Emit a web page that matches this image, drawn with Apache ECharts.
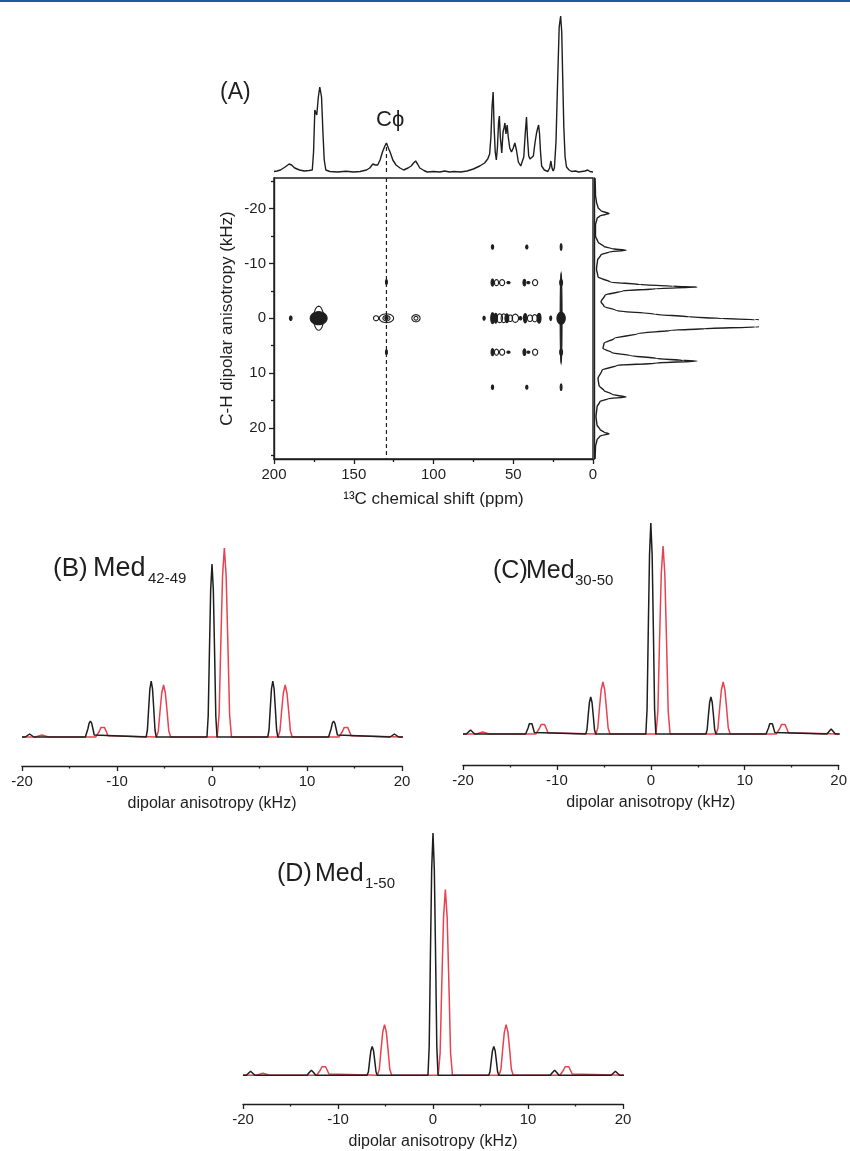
<!DOCTYPE html>
<html>
<head>
<meta charset="utf-8">
<script src="https://cdn.jsdelivr.net/npm/echarts@6/dist/echarts.min.js"></script>
<style>
  html, body { margin: 0; padding: 0; background: #fff; }
  #c { width: 850px; height: 1151px; }
</style>
</head>
<body>
<div id="c"></div>
<script>
// 1D 13C CP-MAS spectrum: [ppm, intensity]
const spectrum13C = [
  [200,0.5],[198,1],[196,2],[193,5],[190.5,8],[189,7],[187,4],[184,2],[181,1],[178,1.5],[176,2],
  [175.2,20],[174.4,62],[173.2,57],[172.2,75],[171.3,85],[170.2,75],[169.2,35],[168.5,12],[167.5,2],
  [165,0.5],[160,0],[155,0.8],[150,0],[146,0.5],[142,2],[140,4],[138,8],[136.5,7],[135,7],[133.5,12],
  [132,20],[130.5,26],[129.5,29],[128.3,24],[127,19],[125.5,12],[123.5,7],[121,4],[118.7,2],[116,4],
  [114,6],[112.5,9],[111.2,11],[110,8],[108.6,4],[106,1.5],[104,0],[100,0.5],[96,0],[93,1],[90,0],
  [87,0.5],[83,0],[79,1],[75,3],[71,6],[68,9],[66,13],[64.8,18],[64,35],[63.3,65],[62.6,80],[62,45],
  [61.3,20],[60.6,12],[59.9,25],[59.2,50],[58.7,56],[58.1,35],[57.2,19],[56.4,40],[55.8,44],[55.2,49],
  [54.6,38],[53.8,47],[53.2,36],[52.2,24],[51.1,20],[50,24],[49,29],[48,22],[46.8,10],[45.3,6],[44.4,5],
  [43.4,15],[42.5,38],[41.7,55],[41.1,35],[40.3,16],[39.5,13],[38.4,15],[37.4,16],[36.3,30],[35.4,39],
  [34.8,43],[34.1,47],[33.5,38],[32.9,20],[32.2,6],[30.5,2],[28.3,0.5],[27.2,4],[26.4,11],[25.7,4],
  [25,1],[24.2,4],[23.2,30],[22.2,90],[21.2,145],[20.3,156],[19.6,140],[19,95],[18.3,45],[17.5,15],
  [16.6,5],[15,2],[13.4,0.5],[11,1],[9,0],[7,0.5],[5,1],[3.3,2],[2,0.5],[0,0]
];

// Cphi position (ppm) and its peak height in the 1D trace
const cPhiPpm = 129.5;
const cPhiHeight = 29;

// 2D DIPSHIFT contours: [ppm, kHz, half-width (ppm), half-height (kHz), filled]
const contourSpots = [
  [189.5,0,0.8,0.4,1],
  [172,0,3.1,2.2,0],[172,0,5.3,1.2,1],
  [136,0,1.6,0.45,0],[129.5,0,4.5,0.8,0],[129.5,0,2.2,0.5,0],[129.5,0,1.0,0.35,1],
  [129.5,-6.6,0.6,0.45,1],[129.5,6.2,0.6,0.45,1],
  [111,0,2.6,0.65,0],[111,0,1.2,0.35,0],
  [68.3,0,0.7,0.35,1],[63,0,1.1,1.0,1],[61,0,1.1,0.9,1],[58.5,0,1.8,0.8,0],[56,0,1.6,0.8,0],
  [54,0,1.2,0.8,1],[51.8,0,1.4,0.6,0],[48.7,0,2.0,0.75,0],[45.5,0,0.9,0.3,1],[42.5,0,1.1,0.85,1],
  [39.5,0,1.6,0.6,0],[36.5,0,1.6,0.65,0],[33.8,0,1.2,0.9,1],[26.5,0,0.6,0.4,1],
  [20,0,2.6,1.1,1],[20,0,0.6,8.2,1],[20,-6.5,0.9,0.6,0],[20,6.2,0.9,0.6,0],
  [63,-6.5,0.9,0.65,1],[60.5,-6.5,1.3,0.55,0],[57,-6.5,1.6,0.55,0],[53,-6.5,1.0,0.2,1],
  [43,-6.5,0.9,0.6,1],[40.5,-6.5,0.9,0.2,1],[36.3,-6.5,1.6,0.55,0],
  [63,6.2,0.9,0.65,1],[60.5,6.2,1.3,0.55,0],[57,6.2,1.6,0.55,0],[53,6.2,1.0,0.2,1],
  [43,6.2,0.9,0.6,1],[40.5,6.2,0.9,0.2,1],[36.3,6.2,1.6,0.55,0],
  [63,-13,0.7,0.4,1],[41.5,-13,0.7,0.35,1],[20,-13,0.5,0.6,1],
  [63,12.6,0.7,0.4,1],[41.5,12.6,0.7,0.35,1],[20,12.6,0.5,0.6,1]
];

// Dipolar projection along F1: [kHz, intensity]
const projection = [
  [-25.6,1],[-22.5,1.5],[-21.2,2.5],[-20.2,4],[-19.6,7],[-19.1,15],[-18.7,6],[-18.2,3],[-17,1.5],
  [-15,1.5],[-13.9,4],[-13.1,10],[-12.7,18],[-12.4,32],[-12.1,15],[-11.6,7],[-10.6,3.5],[-9,2.5],
  [-7.55,4],[-6.6,16],[-6.15,46],[-5.85,79],[-5.7,103],[-5.4,62],[-5.0,29],[-4.2,11],[-3.0,7],
  [-2.2,10],[-1.4,22],[-0.73,61],[-0.25,95],[0.06,128],[0.25,161],[0.9,300],[1.6,161],[1.9,111],
  [2.2,78],[2.8,44],[3.7,20],[4.6,10],[5.5,9],[6.3,18],[6.8,36],[7.35,63],[7.7,89],[7.8,103],
  [8.2,62],[8.6,23],[9.5,8],[11,4],[12.3,5],[13.2,10],[13.9,18],[14.4,32],[14.7,14],[15.2,6],
  [16.2,3],[18,2],[19.5,3],[20.3,6],[20.8,10],[21.1,15],[21.5,6],[22.2,3],[23.5,1.5],[25.7,1]
];

// Dipolar slices (experimental black, simulated red): [kHz, intensity]
const med4249Black = [
  [-20,0],[-19.65,0],[-19.2,3],[-18.75,0],
  [-13.33,0],[-13.2,2],[-13.07,8],[-12.94,13.6],[-12.8,16],[-12.66,13.6],[-12.53,8],[-12.4,2],[-12.27,0],
  [-6.93,0],[-6.8,7],[-6.67,28],[-6.54,48],[-6.4,56],[-6.26,48],[-6.13,28],[-6.0,7],[-5.87,0],
  [-0.53,0],[-0.4,21],[-0.27,86],[-0.14,147],[0,173],[0.14,147],[0.27,86],[0.4,21],[0.53,0],
  [5.87,0],[6.0,7],[6.13,28],[6.26,48],[6.4,56],[6.54,48],[6.67,28],[6.8,7],[6.93,0],
  [12.27,0],[12.4,2],[12.53,8],[12.66,13.6],[12.8,16],[12.94,13.6],[13.07,8],[13.2,2],[13.33,0],
  [18.75,0],[19.2,3],[19.65,0],[20.1,0]
];
const med4249Red = [
  [-20,0],[-18.6,0],[-17.9,2],[-17.2,0],
  [-12.25,0],[-12.05,1.3],[-11.87,5.5],[-11.69,9.4],[-11.5,11],[-11.31,9.4],[-11.13,5.5],[-10.95,1.3],[-10.75,0],
  [-5.85,0],[-5.65,6],[-5.47,26],[-5.29,44],[-5.1,52],[-4.91,44],[-4.73,26],[-4.55,6],[-4.35,0],
  [0.55,0],[0.75,23],[0.93,94],[1.11,161],[1.3,189],[1.49,161],[1.67,94],[1.85,23],[2.05,0],
  [6.95,0],[7.15,6],[7.33,26],[7.51,44],[7.7,52],[7.89,44],[8.07,26],[8.25,6],[8.45,0],
  [13.35,0],[13.55,1.3],[13.73,5.5],[13.91,9.4],[14.1,11],[14.29,9.4],[14.47,5.5],[14.65,1.3],[14.85,0],
  [20.1,0]
];
const med3050Black = [
  [-20,0],[-19.65,0],[-19.2,4],[-18.75,0],
  [-13.33,0],[-13.2,1.4],[-13.07,6],[-12.94,10.2],[-12.8,12],[-12.66,10.2],[-12.53,6],[-12.4,1.4],[-12.27,0],
  [-6.93,0],[-6.8,4.4],[-6.67,18.5],[-6.54,31.5],[-6.4,37],[-6.26,31.5],[-6.13,18.5],[-6.0,4.4],[-5.87,0],
  [-0.53,0],[-0.4,25],[-0.27,105],[-0.14,179],[0,211],[0.14,179],[0.27,105],[0.4,25],[0.53,0],
  [5.87,0],[6.0,4.4],[6.13,18.5],[6.26,31.5],[6.4,37],[6.54,31.5],[6.67,18.5],[6.8,4.4],[6.93,0],
  [12.27,0],[12.4,1.4],[12.53,6],[12.66,10.2],[12.8,12],[12.94,10.2],[13.07,6],[13.2,1.4],[13.33,0],
  [18.75,0],[19.2,5],[19.65,0],[20.1,0]
];
const med3050Red = [
  [-20,0],[-18.6,0],[-17.9,2],[-17.2,0],
  [-12.25,0],[-12.05,1.3],[-11.87,5.5],[-11.69,9.4],[-11.5,11],[-11.31,9.4],[-11.13,5.5],[-10.95,1.3],[-10.75,0],
  [-5.85,0],[-5.65,6],[-5.47,26],[-5.29,44],[-5.1,52],[-4.91,44],[-4.73,26],[-4.55,6],[-4.35,0],
  [0.55,0],[0.75,22.6],[0.93,94],[1.11,160],[1.3,188],[1.49,160],[1.67,94],[1.85,22.6],[2.05,0],
  [6.95,0],[7.15,6],[7.33,26],[7.51,44],[7.7,52],[7.89,44],[8.07,26],[8.25,6],[8.45,0],
  [13.35,0],[13.55,1.3],[13.73,5.5],[13.91,9.4],[14.1,11],[14.29,9.4],[14.47,5.5],[14.65,1.3],[14.85,0],
  [20.1,0]
];
const med150Black = [
  [-20,0],[-19.65,0],[-19.2,4],[-18.75,0],
  [-13.25,0],[-13.05,2.5],[-12.8,5],[-12.55,2.5],[-12.35,0],
  [-6.93,0],[-6.8,3.5],[-6.67,14.5],[-6.54,24.7],[-6.4,29],[-6.26,24.7],[-6.13,14.5],[-6.0,3.5],[-5.87,0],
  [-0.53,0],[-0.4,29],[-0.27,122],[-0.14,207],[0,244],[0.14,207],[0.27,122],[0.4,29],[0.53,0],
  [5.87,0],[6.0,3.5],[6.13,14.5],[6.26,24.7],[6.4,29],[6.54,24.7],[6.67,14.5],[6.8,3.5],[6.93,0],
  [12.35,0],[12.55,2.5],[12.8,5],[13.05,2.5],[13.25,0],
  [18.75,0],[19.2,4],[19.65,0],[20.1,0]
];
const med150Red = [
  [-20,0],[-18.6,0],[-17.9,2],[-17.2,0],
  [-12.25,0],[-12.05,1.2],[-11.87,5],[-11.69,8.5],[-11.5,10],[-11.31,8.5],[-11.13,5],[-10.95,1.2],[-10.75,0],
  [-5.85,0],[-5.65,6],[-5.47,25.5],[-5.29,43.4],[-5.1,51],[-4.91,43.4],[-4.73,25.5],[-4.55,6],[-4.35,0],
  [0.55,0],[0.75,22.4],[0.93,93.5],[1.11,159],[1.3,187],[1.49,159],[1.67,93.5],[1.85,22.4],[2.05,0],
  [6.95,0],[7.15,6],[7.33,25.5],[7.51,43.4],[7.7,51],[7.89,43.4],[8.07,25.5],[8.25,6],[8.45,0],
  [13.35,0],[13.55,1.2],[13.73,5],[13.91,8.5],[14.1,10],[14.29,8.5],[14.47,5],[14.65,1.2],[14.85,0],
  [20.1,0]
];

// Axis tick values for the 2D map
const ppmTicks = [0, 50, 100, 150, 200];
const khzMajor = [-20, -10, 0, 10, 20];
const khzMinor = [-25, -15, -5, 5, 15, 25];

const FONT = '"Liberation Sans", Arial, Helvetica, sans-serif';
const INK = '#1e1e1e';
const RED = '#e8414f';

const chart = echarts.init(document.getElementById('c'), null, { renderer: 'canvas', width: 850, height: 1151 });

function sliceXAxis(gridIndex) {
  return {
    gridIndex, type: 'value', min: -20, max: 20, interval: 10,
    axisLine: { show: true, onZero: false, lineStyle: { color: INK, width: 1.4 } },
    axisTick: { show: true, length: 5, lineStyle: { color: INK, width: 1.3 } },
    minorTick: { show: true, splitNumber: 2, length: 2.5, lineStyle: { color: INK, width: 1.3 } },
    splitLine: { show: false },
    axisLabel: { fontSize: 15, color: INK, fontFamily: FONT, margin: 8 },
    name: 'dipolar anisotropy (kHz)', nameLocation: 'middle', nameGap: 30,
    nameTextStyle: { fontSize: 16, color: INK, fontFamily: FONT }
  };
}
function hiddenY(gridIndex, min, max) {
  return { gridIndex, type: 'value', min, max, show: false, splitLine: { show: false } };
}
function sliceSeries(data, xi, color, z) {
  return {
    type: 'line', xAxisIndex: xi, yAxisIndex: xi + 1, data, symbol: 'none', z,
    lineStyle: { color, width: 1.5 }
  };
}

const option = {
  animation: false,
  backgroundColor: '#ffffff',
  grid: [
    { left: 274, top: 14, width: 319, height: 160 },                  // 1D spectrum
    { left: 274, top: 178, width: 319, height: 281, show: true,
      borderColor: INK, borderWidth: 1.4, backgroundColor: 'transparent' }, // 2D map
    { left: 594, top: 178, width: 163, height: 281 },                 // F1 projection
    { left: 22, top: 540, width: 380, height: 226 },                  // (B)
    { left: 463, top: 520, width: 379, height: 245 },                 // (C)
    { left: 243, top: 830, width: 380, height: 276 }                  // (D)
  ],
  xAxis: [
    { gridIndex: 0, type: 'value', min: 0, max: 200, inverse: true, show: false },
    {
      gridIndex: 1, type: 'value', min: 0, max: 200, inverse: true, interval: 50,
      axisLine: { show: true, onZero: false, lineStyle: { color: INK, width: 1.4 } },
      axisTick: { show: true, length: 5, lineStyle: { color: INK, width: 1.3 } },
      minorTick: { show: true, splitNumber: 2, length: 3, lineStyle: { color: INK, width: 1.3 } },
      splitLine: { show: false },
      axisLabel: { fontSize: 15, color: INK, fontFamily: FONT, margin: 8, customValues: ppmTicks },
      name: '¹³C chemical shift (ppm)', nameLocation: 'middle', nameGap: 32,
      nameTextStyle: { fontSize: 17, color: INK, fontFamily: FONT }
    },
    { gridIndex: 2, type: 'value', min: 0, max: 163, show: false },
    sliceXAxis(3), sliceXAxis(4), sliceXAxis(5)
  ],
  yAxis: [
    { gridIndex: 0, type: 'value', min: -2, max: 158, show: false },
    {
      gridIndex: 1, type: 'value', min: -25.6, max: 25.7, inverse: true, position: 'left',
      axisLine: { show: true, onZero: false, lineStyle: { color: INK, width: 1.4 } },
      axisTick: { show: true, length: 5, customValues: khzMajor, lineStyle: { color: INK, width: 1.3 } },
      splitLine: { show: false },
      axisLabel: { fontSize: 15, color: INK, fontFamily: FONT, margin: 8, customValues: khzMajor },
      name: 'C-H dipolar anisotropy (kHz)', nameLocation: 'middle', nameGap: 38,
      nameTextStyle: { fontSize: 17, color: INK, fontFamily: FONT }
    },
    {
      gridIndex: 1, type: 'value', min: -25.6, max: 25.7, inverse: true, position: 'left',
      axisLine: { show: false, onZero: false },
      axisTick: { show: true, length: 3, customValues: khzMinor, lineStyle: { color: INK, width: 1.3 } },
      axisLabel: { show: false }, splitLine: { show: false }
    },
    {
      gridIndex: 2, type: 'value', min: -25.6, max: 25.7, inverse: true, position: 'left',
      axisLine: { show: true, onZero: false, lineStyle: { color: INK, width: 1.4 } },
      axisTick: { show: false }, axisLabel: { show: false }, splitLine: { show: false }
    },
    hiddenY(3, -29, 197), hiddenY(4, -31, 214), hiddenY(5, -29, 247)
  ],
  series: [
    {
      type: 'line', xAxisIndex: 0, yAxisIndex: 0, data: spectrum13C, symbol: 'none',
      lineStyle: { color: INK, width: 1.4 }, clip: false
    },
    {
      type: 'line', xAxisIndex: 0, yAxisIndex: 0, data: [[cPhiPpm, 0], [cPhiPpm, cPhiHeight]], symbol: 'none',
      lineStyle: { color: INK, width: 1.2, type: [4, 3] }
    },
    {
      type: 'custom', xAxisIndex: 1, yAxisIndex: 1, data: contourSpots,
      renderItem(params, api) {
        const x = api.value(0), y = api.value(1);
        const c = api.coord([x, y]);
        const s = api.size([api.value(2), api.value(3)], [x, y]);
        const rx = Math.max(Math.abs(s[0]), 0.9), ry = Math.max(Math.abs(s[1]), 0.9);
        const pts = [];
        for (let i = 0; i < 32; i++) {
          const t = i / 32 * Math.PI * 2;
          pts.push([c[0] + rx * Math.cos(t), c[1] + ry * Math.sin(t)]);
        }
        const filled = api.value(4) === 1;
        return {
          type: 'polygon', shape: { points: pts },
          style: { fill: filled ? INK : 'none', stroke: INK, lineWidth: 1.1 }
        };
      }
    },
    {
      type: 'line', xAxisIndex: 1, yAxisIndex: 1, data: [[cPhiPpm, -25.6], [cPhiPpm, 25.7]], symbol: 'none',
      lineStyle: { color: INK, width: 1.2, type: [4, 3] }, z: 3
    },
    {
      type: 'line', xAxisIndex: 2, yAxisIndex: 3, data: projection, encode: { x: 1, y: 0 },
      symbol: 'none', smooth: 0.3, smoothMonotone: 'y',
      lineStyle: { color: INK, width: 1.4 }, clip: true
    },
    sliceSeries(med4249Red, 3, RED, 2), sliceSeries(med4249Black, 3, INK, 3),
    sliceSeries(med3050Red, 4, RED, 2), sliceSeries(med3050Black, 4, INK, 3),
    sliceSeries(med150Red, 5, RED, 2), sliceSeries(med150Black, 5, INK, 3)
  ],
  graphic: [
    { type: 'rect', shape: { x: 0, y: 0, width: 850, height: 2 }, style: { fill: '#1b5ca6' } },
    { type: 'text', x: 220, y: 93, style: { text: '(A)', fontSize: 23, fontFamily: FONT, fill: INK, verticalAlign: 'middle' } },
    { type: 'text', x: 376, y: 120, style: { text: 'Cϕ', fontSize: 22, fontFamily: FONT, fill: INK, verticalAlign: 'middle' } },
    { type: 'text', x: 53, y: 569, style: { text: '(B)', fontSize: 26, fontFamily: FONT, fill: INK, verticalAlign: 'middle' } },
    { type: 'text', x: 93, y: 569, style: { text: 'Med', fontSize: 27, fontFamily: FONT, fill: INK, verticalAlign: 'middle' } },
    { type: 'text', x: 148, y: 579, style: { text: '42-49', fontSize: 15, fontFamily: FONT, fill: INK, verticalAlign: 'middle' } },
    { type: 'text', x: 493, y: 571, style: { text: '(C)', fontSize: 25, fontFamily: FONT, fill: INK, verticalAlign: 'middle' } },
    { type: 'text', x: 526, y: 571, style: { text: 'Med', fontSize: 25, fontFamily: FONT, fill: INK, verticalAlign: 'middle' } },
    { type: 'text', x: 575, y: 581, style: { text: '30-50', fontSize: 15, fontFamily: FONT, fill: INK, verticalAlign: 'middle' } },
    { type: 'text', x: 277, y: 874, style: { text: '(D)', fontSize: 25, fontFamily: FONT, fill: INK, verticalAlign: 'middle' } },
    { type: 'text', x: 315, y: 874, style: { text: 'Med', fontSize: 25, fontFamily: FONT, fill: INK, verticalAlign: 'middle' } },
    { type: 'text', x: 365, y: 884, style: { text: '1-50', fontSize: 15, fontFamily: FONT, fill: INK, verticalAlign: 'middle' } }
  ]
};

chart.setOption(option);
</script>
</body>
</html>
